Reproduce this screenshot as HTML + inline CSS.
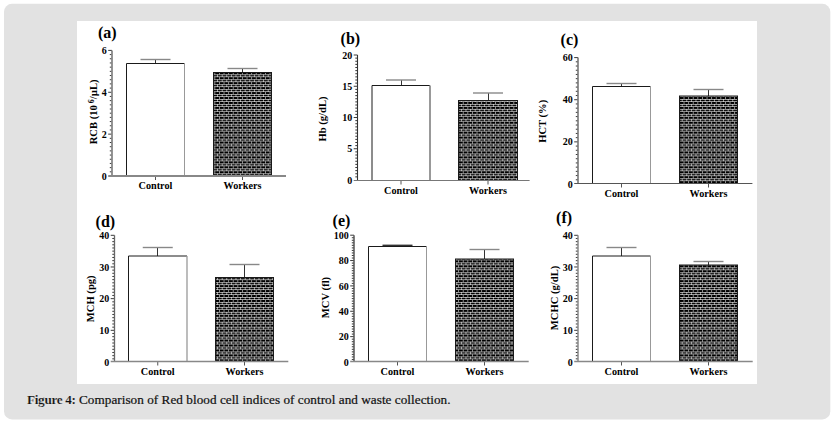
<!DOCTYPE html>
<html><head><meta charset="utf-8"><style>
html,body{margin:0;padding:0;background:#fff;width:839px;height:426px;overflow:hidden}
svg{display:block}
text{font-family:"Liberation Serif",serif;font-weight:bold;fill:#000}
.lt{font-size:16px}
.cat{font-size:10.2px;text-anchor:middle}
.tk{font-size:10px;text-anchor:end}
.yl{font-size:10.6px;text-anchor:middle}
</style></head><body>
<svg width="839" height="426" viewBox="0 0 839 426">
<defs>
<pattern id="brick" patternUnits="userSpaceOnUse" width="4.6" height="4.95" x="0" y="0">
<rect width="4.6" height="4.95" fill="#000"/>
<path d="M0 0.4H4.6M0 2.875H4.6M1.2 0V2.475M3.5 2.475V4.95" stroke="#fff" stroke-width="0.6" shape-rendering="crispEdges"/>
</pattern>
</defs>
<rect x="4" y="3.8" width="826.3" height="415.6" rx="8" fill="#e2e2e2"/>
<rect x="77" y="21" width="680" height="363" fill="#fff"/>
<text x="98" y="38.4" class="lt">(a)</text>
<path d="M155.5 63.5V59.5" stroke="#333" stroke-width="1" fill="none"/>
<path d="M140.5 59.5H170.5" stroke="#888" stroke-width="1.4" fill="none"/>
<rect x="126.5" y="63.5" width="58" height="112.5" fill="#fff"/>
<path d="M126.5 176V63.5H184.5" stroke="#1a1a1a" stroke-width="1" fill="none"/>
<path d="M184.5 63.5V176" stroke="#999" stroke-width="1" fill="none"/>
<path d="M155.5 176V180" stroke="#555" stroke-width="1"/>
<text x="155.5" y="189" class="cat">Control</text>
<path d="M242.5 72.5V68.5" stroke="#333" stroke-width="1" fill="none"/>
<path d="M227.5 68.5H257.5" stroke="#888" stroke-width="1.4" fill="none"/>
<rect x="213.5" y="72.5" width="58" height="103.5" fill="url(#brick)" stroke="#1a1a1a" stroke-width="1"/>
<path d="M242.5 176V180" stroke="#555" stroke-width="1"/>
<text x="242.5" y="189" class="cat">Workers</text>
<path d="M109.8 171.81H112M109.8 167.63H112M109.8 163.44H112M109.8 159.25H112M109.8 155.07H112M109.8 150.88H112M109.8 146.69H112M109.8 142.51H112M109.8 138.32H112M108.2 134.13H112M109.8 129.95H112M109.8 125.76H112M109.8 121.57H112M109.8 117.39H112M109.8 113.2H112M109.8 109.01H112M109.8 104.83H112M109.8 100.64H112M109.8 96.45H112M108.2 92.27H112M109.8 88.08H112M109.8 83.89H112M109.8 79.71H112M109.8 75.52H112M109.8 71.33H112M109.8 67.15H112M109.8 62.96H112M109.8 58.77H112M109.8 54.59H112M108.2 50.4H112" stroke="#3a3a3a" stroke-width="1" fill="none"/>
<path d="M112 50.4V176" stroke="#888" stroke-width="1.8" fill="none"/>
<path d="M108.2 176H286" stroke="#888" stroke-width="1.8" fill="none"/>
<text x="106.8" y="179.6" class="tk">0</text>
<text x="106.8" y="137.73" class="tk">2</text>
<text x="106.8" y="95.87" class="tk">4</text>
<text x="106.8" y="54" class="tk">6</text>
<text transform="translate(97.4 111.9) rotate(-90)" class="yl">RCB (10<tspan dy="-3.5" font-size="8"> 6</tspan><tspan dy="3.5">/µL)</tspan></text>
<text x="340.6" y="43.5" class="lt">(b)</text>
<path d="M401.5 85.5V80" stroke="#333" stroke-width="1" fill="none"/>
<path d="M386 80H416" stroke="#888" stroke-width="1.4" fill="none"/>
<rect x="372" y="85.5" width="58" height="95" fill="#fff"/>
<path d="M372 180.5V85.5H430" stroke="#1a1a1a" stroke-width="1" fill="none"/>
<path d="M430 85.5V180.5" stroke="#999" stroke-width="2" fill="none"/>
<path d="M401 180.5V184.5" stroke="#555" stroke-width="1"/>
<text x="401" y="193.5" class="cat">Control</text>
<path d="M488.5 100.5V93" stroke="#333" stroke-width="1" fill="none"/>
<path d="M473 93H503" stroke="#888" stroke-width="1.4" fill="none"/>
<rect x="458.5" y="100.5" width="59" height="80" fill="url(#brick)" stroke="#1a1a1a" stroke-width="1"/>
<path d="M488 180.5V184.5" stroke="#555" stroke-width="1"/>
<text x="488" y="193.5" class="cat">Workers</text>
<path d="M355.3 176.88H357.5M355.3 173.75H357.5M355.3 170.62H357.5M355.3 167.5H357.5M355.3 164.38H357.5M355.3 161.25H357.5M355.3 158.12H357.5M355.3 155H357.5M355.3 151.88H357.5M353.7 148.75H357.5M355.3 145.62H357.5M355.3 142.5H357.5M355.3 139.38H357.5M355.3 136.25H357.5M355.3 133.12H357.5M355.3 130H357.5M355.3 126.88H357.5M355.3 123.75H357.5M355.3 120.62H357.5M353.7 117.5H357.5M355.3 114.38H357.5M355.3 111.25H357.5M355.3 108.12H357.5M355.3 105H357.5M355.3 101.88H357.5M355.3 98.75H357.5M355.3 95.62H357.5M355.3 92.5H357.5M355.3 89.38H357.5M353.7 86.25H357.5M355.3 83.12H357.5M355.3 80H357.5M355.3 76.88H357.5M355.3 73.75H357.5M355.3 70.62H357.5M355.3 67.5H357.5M355.3 64.38H357.5M355.3 61.25H357.5M355.3 58.12H357.5M353.7 55H357.5" stroke="#3a3a3a" stroke-width="1" fill="none"/>
<path d="M357.5 55V180.5" stroke="#333" stroke-width="1.1" fill="none"/>
<path d="M353.7 180.5H529.6" stroke="#777" stroke-width="1.2" fill="none"/>
<text x="352.3" y="183.6" class="tk">0</text>
<text x="352.3" y="152.35" class="tk">5</text>
<text x="352.3" y="121.1" class="tk">10</text>
<text x="352.3" y="89.85" class="tk">15</text>
<text x="352.3" y="58.6" class="tk">20</text>
<text transform="translate(325.6 119) rotate(-90)" class="yl">Hb (g/dL)</text>
<text x="560.6" y="44.5" class="lt">(c)</text>
<path d="M621.5 86.5V83.5" stroke="#333" stroke-width="1" fill="none"/>
<path d="M606.5 83.5H636.5" stroke="#888" stroke-width="1.4" fill="none"/>
<rect x="592.5" y="86.5" width="58" height="97" fill="#fff"/>
<path d="M592.5 183.5V86.5H650.5" stroke="#1a1a1a" stroke-width="1" fill="none"/>
<path d="M650.5 86.5V183.5" stroke="#999" stroke-width="1" fill="none"/>
<path d="M621.5 183.5V187.5" stroke="#555" stroke-width="1"/>
<text x="621.5" y="196.5" class="cat">Control</text>
<path d="M708.5 96V89.5" stroke="#333" stroke-width="1" fill="none"/>
<path d="M693.5 89.5H723.5" stroke="#888" stroke-width="1.4" fill="none"/>
<rect x="679.5" y="96" width="58" height="87.5" fill="url(#brick)" stroke="#1a1a1a" stroke-width="1"/>
<path d="M708.5 183.5V187.5" stroke="#555" stroke-width="1"/>
<text x="708.5" y="196.5" class="cat">Workers</text>
<path d="M575.8 179.79H578M575.8 175.57H578M575.8 171.36H578M575.8 167.15H578M575.8 162.93H578M575.8 158.72H578M575.8 154.51H578M575.8 150.29H578M575.8 146.08H578M574.2 141.87H578M575.8 137.65H578M575.8 133.44H578M575.8 129.23H578M575.8 125.01H578M575.8 120.8H578M575.8 116.59H578M575.8 112.37H578M575.8 108.16H578M575.8 103.95H578M574.2 99.73H578M575.8 95.52H578M575.8 91.31H578M575.8 87.09H578M575.8 82.88H578M575.8 78.67H578M575.8 74.45H578M575.8 70.24H578M575.8 66.03H578M575.8 61.81H578M574.2 57.6H578" stroke="#3a3a3a" stroke-width="1" fill="none"/>
<path d="M578 57.6V183.5" stroke="#777" stroke-width="1.6" fill="none"/>
<path d="M574.2 183.5H752.4" stroke="#555" stroke-width="1.2" fill="none"/>
<text x="572.8" y="187.6" class="tk">0</text>
<text x="572.8" y="145.47" class="tk">20</text>
<text x="572.8" y="103.33" class="tk">40</text>
<text x="572.8" y="61.2" class="tk">60</text>
<text transform="translate(546.1 121.3) rotate(-90)" class="yl">HCT (%)</text>
<text x="95.6" y="226.5" class="lt">(d)</text>
<path d="M157.5 256V247.5" stroke="#333" stroke-width="1" fill="none"/>
<path d="M142.75 247.5H172.75" stroke="#888" stroke-width="1.4" fill="none"/>
<rect x="128.5" y="256" width="58.5" height="105.5" fill="#fff"/>
<path d="M128.5 361.5V256H187" stroke="#1a1a1a" stroke-width="1" fill="none"/>
<path d="M187 256V361.5" stroke="#999" stroke-width="1.3" fill="none"/>
<path d="M157.75 361.5V365.5" stroke="#555" stroke-width="1"/>
<text x="157.75" y="374.5" class="cat">Control</text>
<path d="M244.5 277.5V264.5" stroke="#333" stroke-width="1" fill="none"/>
<path d="M229.5 264.5H259.5" stroke="#888" stroke-width="1.4" fill="none"/>
<rect x="215.5" y="277.5" width="58" height="84" fill="url(#brick)" stroke="#1a1a1a" stroke-width="1"/>
<path d="M244.5 361.5V365.5" stroke="#555" stroke-width="1"/>
<text x="244.5" y="374.5" class="cat">Workers</text>
<path d="M112.3 358.83H114.5M112.3 355.67H114.5M112.3 352.5H114.5M112.3 349.33H114.5M112.3 346.16H114.5M112.3 343H114.5M112.3 339.83H114.5M112.3 336.66H114.5M112.3 333.49H114.5M110.7 330.32H114.5M112.3 327.16H114.5M112.3 323.99H114.5M112.3 320.82H114.5M112.3 317.66H114.5M112.3 314.49H114.5M112.3 311.32H114.5M112.3 308.15H114.5M112.3 304.99H114.5M112.3 301.82H114.5M110.7 298.65H114.5M112.3 295.48H114.5M112.3 292.31H114.5M112.3 289.15H114.5M112.3 285.98H114.5M112.3 282.81H114.5M112.3 279.64H114.5M112.3 276.48H114.5M112.3 273.31H114.5M112.3 270.14H114.5M110.7 266.98H114.5M112.3 263.81H114.5M112.3 260.64H114.5M112.3 257.47H114.5M112.3 254.31H114.5M112.3 251.14H114.5M112.3 247.97H114.5M112.3 244.8H114.5M112.3 241.64H114.5M112.3 238.47H114.5M110.7 235.3H114.5" stroke="#3a3a3a" stroke-width="1" fill="none"/>
<path d="M114.5 235.3V361.5" stroke="#666" stroke-width="1.3" fill="none"/>
<path d="M110.7 361.5H288.3" stroke="#888" stroke-width="1.7" fill="none"/>
<text x="109.3" y="365.6" class="tk">0</text>
<text x="109.3" y="333.93" class="tk">10</text>
<text x="109.3" y="302.25" class="tk">20</text>
<text x="109.3" y="270.58" class="tk">30</text>
<text x="109.3" y="238.9" class="tk">40</text>
<text transform="translate(93.6 298.8) rotate(-90)" class="yl">MCH (pg)</text>
<text x="332.6" y="225.5" class="lt">(e)</text>
<path d="M397.5 246.5V245.3" stroke="#333" stroke-width="1" fill="none"/>
<path d="M382.5 245.3H412.5" stroke="#333" stroke-width="1.4" fill="none"/>
<rect x="368.5" y="246.5" width="58" height="115" fill="#fff"/>
<path d="M368.5 361.5V246.5H426.5" stroke="#1a1a1a" stroke-width="1" fill="none"/>
<path d="M426.5 246.5V361.5" stroke="#999" stroke-width="1" fill="none"/>
<path d="M397.5 361.5V365.5" stroke="#555" stroke-width="1"/>
<text x="397.5" y="374.5" class="cat">Control</text>
<path d="M484.5 259V249.5" stroke="#333" stroke-width="1" fill="none"/>
<path d="M469.5 249.5H499.5" stroke="#888" stroke-width="1.4" fill="none"/>
<rect x="455.5" y="259" width="58" height="102.5" fill="url(#brick)" stroke="#1a1a1a" stroke-width="1"/>
<path d="M484.5 361.5V365.5" stroke="#555" stroke-width="1"/>
<text x="484.5" y="374.5" class="cat">Workers</text>
<path d="M351.8 359.46H354M351.8 356.93H354M351.8 354.39H354M351.8 351.86H354M351.8 349.32H354M351.8 346.78H354M351.8 344.25H354M351.8 341.71H354M351.8 339.18H354M350.2 336.64H354M351.8 334.1H354M351.8 331.57H354M351.8 329.03H354M351.8 326.5H354M351.8 323.96H354M351.8 321.42H354M351.8 318.89H354M351.8 316.35H354M351.8 313.82H354M350.2 311.28H354M351.8 308.74H354M351.8 306.21H354M351.8 303.67H354M351.8 301.14H354M351.8 298.6H354M351.8 296.06H354M351.8 293.53H354M351.8 290.99H354M351.8 288.46H354M350.2 285.92H354M351.8 283.38H354M351.8 280.85H354M351.8 278.31H354M351.8 275.78H354M351.8 273.24H354M351.8 270.7H354M351.8 268.17H354M351.8 265.63H354M351.8 263.1H354M350.2 260.56H354M351.8 258.02H354M351.8 255.49H354M351.8 252.95H354M351.8 250.42H354M351.8 247.88H354M351.8 245.34H354M351.8 242.81H354M351.8 240.27H354M351.8 237.74H354M350.2 235.2H354" stroke="#3a3a3a" stroke-width="1" fill="none"/>
<path d="M354 235.2V361.5" stroke="#555" stroke-width="1.5" fill="none"/>
<path d="M350.2 361.5H528.7" stroke="#888" stroke-width="1.7" fill="none"/>
<text x="348.8" y="365.6" class="tk">0</text>
<text x="348.8" y="340.24" class="tk">20</text>
<text x="348.8" y="314.88" class="tk">40</text>
<text x="348.8" y="289.52" class="tk">60</text>
<text x="348.8" y="264.16" class="tk">80</text>
<text x="348.8" y="238.8" class="tk">100</text>
<text transform="translate(328.6 297.5) rotate(-90)" class="yl">MCV (fl)</text>
<text x="556.1" y="223.3" class="lt">(f)</text>
<path d="M621.5 256V247.5" stroke="#333" stroke-width="1" fill="none"/>
<path d="M606.5 247.5H636.5" stroke="#888" stroke-width="1.4" fill="none"/>
<rect x="592.5" y="256" width="58" height="105.5" fill="#fff"/>
<path d="M592.5 361.5V256H650.5" stroke="#1a1a1a" stroke-width="1" fill="none"/>
<path d="M650.5 256V361.5" stroke="#999" stroke-width="1" fill="none"/>
<path d="M621.5 361.5V365.5" stroke="#555" stroke-width="1"/>
<text x="621.5" y="374.5" class="cat">Control</text>
<path d="M708.5 265V261.5" stroke="#333" stroke-width="1" fill="none"/>
<path d="M693.5 261.5H723.5" stroke="#888" stroke-width="1.4" fill="none"/>
<rect x="679.5" y="265" width="58" height="96.5" fill="url(#brick)" stroke="#1a1a1a" stroke-width="1"/>
<path d="M708.5 361.5V365.5" stroke="#555" stroke-width="1"/>
<text x="708.5" y="374.5" class="cat">Workers</text>
<path d="M575.8 358.83H578M575.8 355.67H578M575.8 352.5H578M575.8 349.33H578M575.8 346.16H578M575.8 343H578M575.8 339.83H578M575.8 336.66H578M575.8 333.49H578M574.2 330.32H578M575.8 327.16H578M575.8 323.99H578M575.8 320.82H578M575.8 317.66H578M575.8 314.49H578M575.8 311.32H578M575.8 308.15H578M575.8 304.99H578M575.8 301.82H578M574.2 298.65H578M575.8 295.48H578M575.8 292.31H578M575.8 289.15H578M575.8 285.98H578M575.8 282.81H578M575.8 279.64H578M575.8 276.48H578M575.8 273.31H578M575.8 270.14H578M574.2 266.98H578M575.8 263.81H578M575.8 260.64H578M575.8 257.47H578M575.8 254.31H578M575.8 251.14H578M575.8 247.97H578M575.8 244.8H578M575.8 241.64H578M575.8 238.47H578M574.2 235.3H578" stroke="#3a3a3a" stroke-width="1" fill="none"/>
<path d="M578 235.3V361.5" stroke="#888" stroke-width="1.5" fill="none"/>
<path d="M574.2 361.5H752.7" stroke="#888" stroke-width="1.7" fill="none"/>
<text x="572.8" y="365.6" class="tk">0</text>
<text x="572.8" y="333.93" class="tk">10</text>
<text x="572.8" y="302.25" class="tk">20</text>
<text x="572.8" y="270.58" class="tk">30</text>
<text x="572.8" y="238.9" class="tk">40</text>
<text transform="translate(558.4 298) rotate(-90)" class="yl">MCHC (g/dL)</text>
<text x="27" y="403.6" style="font-size:13.2px;font-weight:normal;fill:#111"><tspan font-weight="bold" letter-spacing="-0.3" stroke="#e2e2e2" stroke-width="0.15">Figure 4:</tspan> <tspan letter-spacing="0.04" stroke="#111" stroke-width="0.22">Comparison of Red blood cell indices of control and waste collection.</tspan></text>
</svg>
</body></html>
